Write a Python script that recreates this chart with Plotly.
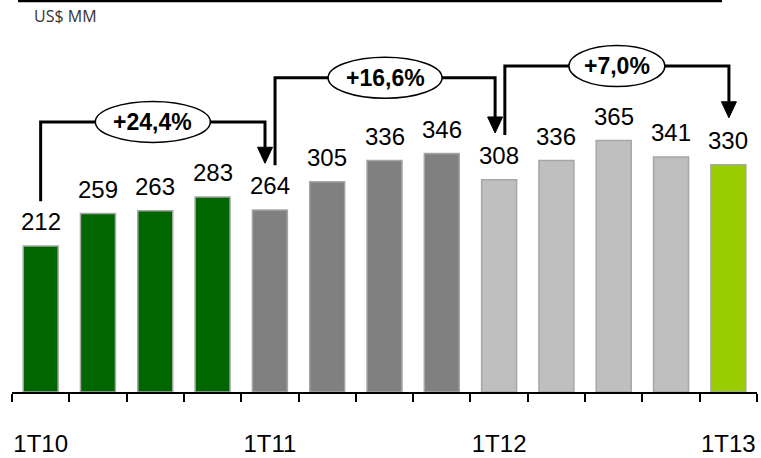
import plotly.graph_objects as go

# ---- data ----
categories = ["1T10", "2T10", "3T10", "4T10", "1T11", "2T11", "3T11", "4T11",
              "1T12", "2T12", "3T12", "4T12", "1T13"]
values = [212, 259, 263, 283, 264, 305, 336, 346, 308, 336, 365, 341, 330]
tick_labels = ["1T10", "", "", "", "1T11", "", "", "", "1T12", "", "", "", "1T13"]
growth_labels = ["+24,4%", "+16,6%", "+7,0%"]
growth_from = [0, 4, 8]
growth_to = [4, 8, 12]
bracket_levels = [392, 456, 473]

# ---- styling ----
colors = ["#006600"] * 4 + ["#808080"] * 4 + ["#BFBFBF"] * 4 + ["#99CC00"]
FONT = "Liberation Sans, Arial, sans-serif"
W, H = 761, 458
ML, MR, MT, MB = 12, 4, 30, 66
Y_MAX = 525.4
plot_h = H - MT - MB
plot_w = W - ML - MR
n = len(categories)
cat_px = plot_w / n
px_per_unit = plot_h / Y_MAX

def dx(px):
    return px / cat_px

def dy(px):
    return px / px_per_unit

x_idx = list(range(n))

fig = go.Figure()
fig.add_trace(go.Bar(
    x=x_idx, y=values,
    marker=dict(color=colors, line=dict(color="#A6A6A6", width=1.5)),
    hoverinfo="skip",
))

annotations = []
for i, v in enumerate(values):
    annotations.append(dict(
        x=i, y=v, xref="x", yref="y", text=str(v), showarrow=False,
        yanchor="bottom", yshift=9, font=dict(family=FONT, size=24, color="#000000"),
    ))

shapes = []
start_off = 65
tip_off = 68
left_dx = [0.0, 0.09, 0.10]
right_dx = [-0.085, -0.07, 0.01]
ell_w = [115, 114, 96]
for k in range(3):
    i0, i1 = growth_from[k], growth_to[k]
    xl = i0 + left_dx[k]
    xr = i1 + right_dx[k]
    y_start = values[i0] + start_off
    y_tip = values[i1] + tip_off
    y_h = bracket_levels[k]
    th = dy(16)
    hw = dx(7.5)
    shapes.append(dict(type="path", xref="x", yref="y",
                       path=f"M {xl} {y_start} L {xl} {y_h} L {xr} {y_h} L {xr} {y_tip + th}",
                       line=dict(color="black", width=3)))
    shapes.append(dict(type="path", xref="x", yref="y",
                       path=f"M {xr - hw} {y_tip + th} L {xr + hw} {y_tip + th} L {xr} {y_tip} Z",
                       line=dict(color="black", width=1), fillcolor="black"))
    xc = (xl + xr) / 2
    ew = dx(ell_w[k]) / 2
    eh = dy(41) / 2
    shapes.append(dict(type="circle", xref="x", yref="y",
                       x0=xc - ew, x1=xc + ew, y0=y_h - eh, y1=y_h + eh,
                       line=dict(color="black", width=1.5), fillcolor="white"))
    annotations.append(dict(x=xc, y=y_h, xref="x", yref="y", text=f"<b>{growth_labels[k]}</b>",
                            showarrow=False, font=dict(family=FONT, size=23, color="black")))

# top rule and unit label
shapes.append(dict(type="line", xref="paper", yref="paper",
                   x0=(18 - ML) / plot_w, x1=(722 - ML) / plot_w,
                   y0=(H - MB - 1) / plot_h, y1=(H - MB - 1) / plot_h,
                   line=dict(color="black", width=2.5)))
annotations.append(dict(x=(32 - ML) / plot_w, y=(H - MB - 16) / plot_h, xref="paper", yref="paper",
                        xanchor="left", yanchor="middle", text="US$ MM", showarrow=False,
                        font=dict(family="Open Sans, sans-serif", size=16, color="#333333")))

fig.update_layout(
    width=W, height=H,
    margin=dict(l=ML, r=MR, t=MT, b=MB, autoexpand=False),
    plot_bgcolor="white", paper_bgcolor="white",
    showlegend=False, bargap=0.39,
    shapes=shapes, annotations=annotations,
    xaxis=dict(
        range=[-0.5, n - 0.5], tickmode="array", tickvals=x_idx, ticktext=tick_labels,
        ticks="", showgrid=False, zeroline=False, automargin=False,
        showline=True, linecolor="black", linewidth=2,
        tickfont=dict(family=FONT, size=24, color="black"),
        ticklabelstandoff=29,
        minor=dict(tickmode="array", tickvals=[i - 0.5 for i in range(n + 1)],
                   ticks="outside", ticklen=8, tickwidth=2, tickcolor="black", showgrid=False),
        fixedrange=True,
    ),
    yaxis=dict(range=[0, Y_MAX], visible=False, fixedrange=True, automargin=False),
)

fig.write_html("out.html")
